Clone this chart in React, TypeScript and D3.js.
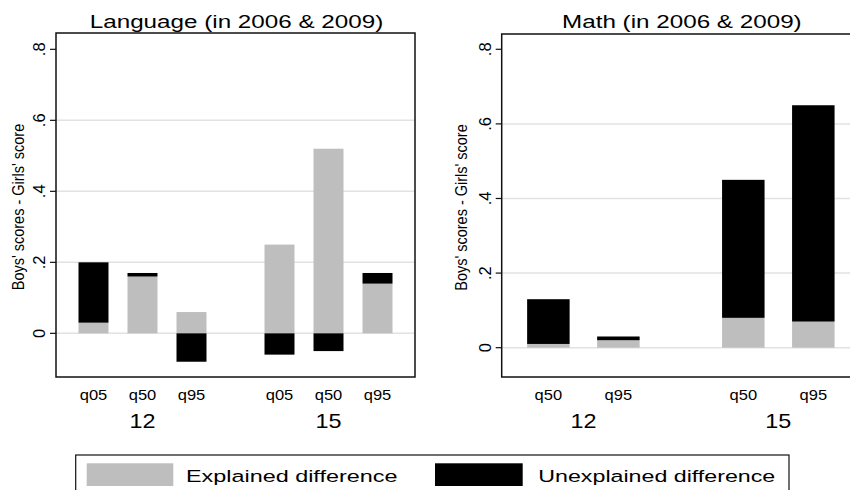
import React from "react";
import * as d3 from "d3";

// ---------- data ----------
const groups = ["12", "15"];
const langQuantiles = ["q05", "q50", "q95"];
const langExplained = [0.03, 0.16, 0.06, 0.25, 0.52, 0.14];
const langUnexplained = [0.17, 0.01, -0.08, -0.06, -0.05, 0.03];
const mathQuantiles = ["q50", "q95"];
const mathExplained = [0.01, 0.02, 0.08, 0.07];
const mathUnexplained = [0.12, 0.01, 0.37, 0.58];
const yTicks = [0, 0.2, 0.4, 0.6, 0.8];
const yTickLabels = ["0", ".2", ".4", ".6", ".8"];
const gridTicks = [0, 0.2, 0.4, 0.6];
const seriesNames = ["Explained difference", "Unexplained difference"];
const seriesColors = ["#bebebe", "#000000"];

const FONT = "'Liberation Sans', Arial, Helvetica, sans-serif";

function SText({ x, y, sx = 1, sy = 1, fs, anchor = "middle", rotate = 0, children }: any) {
  return (
    <text
      transform={`translate(${x},${y}) rotate(${rotate}) scale(${sx},${sy})`}
      fontSize={fs}
      textAnchor={anchor}
      fontFamily={FONT}
      fill="#000"
    >
      {children}
    </text>
  );
}

function Panel({ cfg }: any) {
  const { x0, x1, top, bottom, yDomain, quantiles, explained, unexplained, outerPad, innerPad, title } = cfg;
  const y = d3.scaleLinear().domain(yDomain).range([bottom, top]);
  const outer = d3.scalePoint<string>().domain(groups).range([x0, x1]).padding(outerPad);
  const inner = d3
    .scaleBand<string>()
    .domain(quantiles)
    .range([-cfg.innerWidth / 2, cfg.innerWidth / 2])
    .paddingInner(innerPad)
    .paddingOuter(0);

  const rows: any[] = [];
  groups.forEach((g, gi) => {
    quantiles.forEach((q: string, qi: number) => {
      const i = gi * quantiles.length + qi;
      rows.push({ g, q, e: explained[i], u: unexplained[i] });
    });
  });
  const stack = d3.stack<any>().keys(["e", "u"]).offset(d3.stackOffsetDiverging);
  const layers = stack(rows);
  const bw = inner.bandwidth();

  return (
    <g>
      {gridTicks.map((t) => (
        <line key={"g" + t} x1={x0} x2={x1} y1={y(t)} y2={y(t)} stroke="#e2e2e2" strokeWidth={1.5} />
      ))}
      {layers.map((layer, li) =>
        layer.map((d: any, di: number) => {
          const r = rows[di];
          const cx = (outer(r.g) as number) + (inner(r.q) as number);
          const ya = y(d[0]);
          const yb = y(d[1]);
          return (
            <rect
              key={li + "-" + di}
              x={cx}
              y={Math.min(ya, yb)}
              width={bw}
              height={Math.abs(ya - yb)}
              fill={seriesColors[li]}
            />
          );
        })
      )}
      <rect x={x0} y={top} width={x1 - x0} height={bottom - top} fill="none" stroke="#111" strokeWidth={1.5} />
      {yTicks.map((t, i) => (
        <g key={"t" + t}>
          <line x1={x0 - 6} x2={x0} y1={y(t)} y2={y(t)} stroke="#111" strokeWidth={1.2} />
          <SText x={x0 - 11} y={y(t)} fs={16.5} sy={1.05} rotate={-90}>
            {yTickLabels[i]}
          </SText>
        </g>
      ))}
      <SText x={cfg.yTitleX} y={(top + bottom) / 2 + 2} fs={14.5} sy={1.15} rotate={-90}>
        Boys' scores - Girls' score
      </SText>
      {rows.map((r, i) => (
        <SText key={"q" + i} x={(outer(r.g) as number) + (inner(r.q) as number) + bw / 2} y={400} fs={14} sx={1.18}>
          {r.q}
        </SText>
      ))}
      {groups.map((g) => (
        <SText key={"grp" + g} x={outer(g) as number} y={428} fs={20} sx={1.17}>
          {g}
        </SText>
      ))}
      <SText x={(x0 + x1) / 2 + 1} y={28.3} fs={18.5} sx={1.31}>
        {title}
      </SText>
    </g>
  );
}

const leftCfg = {
  x0: 56,
  x1: 415,
  top: 33,
  bottom: 377,
  yDomain: [-0.123, 0.846],
  quantiles: langQuantiles,
  explained: langExplained,
  unexplained: langUnexplained,
  outerPad: 0.465,
  innerWidth: 128,
  innerPad: 0.388,
  title: "Language (in 2006 & 2009)",
  yTitleX: 24,
};

const rightCfg = {
  x0: 501.7,
  x1: 860,
  top: 34,
  bottom: 377,
  yDomain: [-0.0786, 0.841],
  quantiles: mathQuantiles,
  explained: mathExplained,
  unexplained: mathUnexplained,
  outerPad: 0.419,
  innerWidth: 112.5,
  innerPad: 0.393,
  title: "Math (in 2006 & 2009)",
  yTitleX: 467,
};

export default function App() {
  return (
    <svg
      width={850}
      height={490}
      style={{ position: "absolute", left: 0, top: 0, display: "block", background: "#fff" }}
    >
      <rect x={0} y={0} width={850} height={490} fill="#fff" />
      <Panel cfg={leftCfg} />
      <Panel cfg={rightCfg} />
      <rect x={75.7} y={455} width={713.3} height={50} fill="#fff" stroke="#111" strokeWidth={1.2} />
      <rect x={86.7} y={463.3} width={86.6} height={22.7} fill={seriesColors[0]} />
      <SText x={186} y={482.3} fs={17.2} sx={1.36} anchor="start">
        {seriesNames[0]}
      </SText>
      <rect x={435} y={463.3} width={87.7} height={22.7} fill={seriesColors[1]} />
      <SText x={538.3} y={482.3} fs={17.2} sx={1.35} anchor="start">
        {seriesNames[1]}
      </SText>
    </svg>
  );
}
